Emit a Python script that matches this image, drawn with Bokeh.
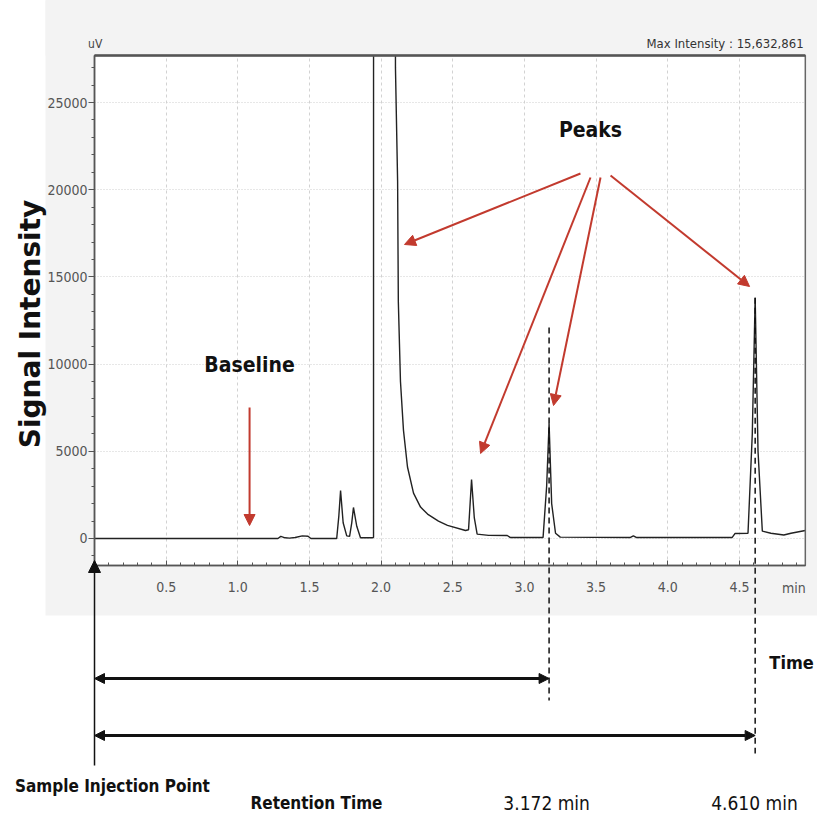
import math
from bokeh.plotting import figure
from bokeh.models import Arrow, NormalHead, Label, FixedTicker, Range1d, PrintfTickFormatter
from bokeh.embed import file_html
from bokeh.resources import INLINE

# ---- data ----
time_min = [0.00, 1.28, 1.30, 1.33, 1.36, 1.40, 1.45, 1.49, 1.51, 1.69, 1.705, 1.717, 1.735,
            1.76, 1.78, 1.795, 1.807, 1.83, 1.856, 1.94, 1.947, 2.02, 2.10, 2.115, 2.12, 2.135,
            2.156, 2.184, 2.226, 2.275, 2.324, 2.40, 2.463, 2.589, 2.61, 2.631, 2.65, 2.67,
            2.75, 2.88, 2.90, 3.13, 3.155, 3.172, 3.19, 3.217, 3.25, 3.74, 3.76, 3.78,
            4.45, 4.47, 4.56, 4.59, 4.61, 4.63, 4.66, 4.72, 4.81, 4.86, 4.96]
signal_uv = [0, 0, 120, 40, 20, 60, 150, 130, 0, 0, 1300, 2750, 900,
             150, 120, 900, 1780, 700, 40, 40, 60, 15632861, 27000, 20500, 13600, 9000,
             6200, 4100, 2600, 1800, 1400, 1000, 750, 460, 500, 3380, 1200, 250,
             180, 170, 60, 60, 3000, 6600, 2000, 300, 80, 60, 150, 60,
             60, 290, 300, 6000, 13800, 5000, 420, 300, 200, 300, 460]

x_ticks = [0.5, 1.0, 1.5, 2.0, 2.5, 3.0, 3.5, 4.0, 4.5]
x_minor = [round(0.1 * i, 1) for i in range(1, 50)]
y_ticks = [0, 5000, 10000, 15000, 20000, 25000]
y_minor = [1000 * i for i in range(-1, 28)]

X_MIN, X_MAX = 0.0, 4.96          # time axis limits (min)
Y_MIN, Y_MAX = -1550, 27700       # signal axis limits (uV)

retention_times = [3.172, 4.610]
retention_apex = [12100, 13800]
max_intensity_text = "Max Intensity : 15,632,861"

COND = "DejaVu Sans Condensed"
RED = "#c23a2e"
INK = "#111111"
PANEL = "#f3f3f3"

W, H = 817, 825
p = figure(width=W, height=H, x_range=Range1d(-0.656, 5.045), y_range=Range1d(-16457, 30849),
           output_backend="svg", toolbar_location=None,
           min_border_left=0, min_border_right=0, min_border_top=0, min_border_bottom=0)
p.background_fill_color = "white"
p.border_fill_color = "white"
p.outline_line_color = None

# panel backgrounds
p.quad(left=-0.342, right=6.0, bottom=-4415, top=40000, fill_color=PANEL, line_color=None, level="image")
p.quad(left=X_MIN, right=X_MAX, bottom=Y_MIN, top=Y_MAX, fill_color="white", line_color=None, level="image")

p.line(time_min, signal_uv, line_color="#222222", line_width=1.4)

# mask above the plot box (clips off-scale peak) and box outline
p.quad(left=-0.342, right=6.0, bottom=Y_MAX, top=40000, fill_color=PANEL, line_color=None, level="guide")
p.quad(left=X_MIN, right=X_MAX, bottom=Y_MIN, top=Y_MAX, fill_color=None, line_color="#666666",
       line_width=1.5, level="guide")
p.segment(x0=[X_MIN], y0=[Y_MAX], x1=[X_MAX], y1=[Y_MAX], line_color="#555555", line_width=2.5, level="guide")

# axes
p.xaxis.ticker = FixedTicker(ticks=x_ticks, minor_ticks=x_minor)
p.yaxis.ticker = FixedTicker(ticks=y_ticks, minor_ticks=y_minor)
p.xaxis.formatter = PrintfTickFormatter(format="%.1f")
p.xaxis.fixed_location = Y_MIN
p.yaxis.fixed_location = X_MIN
p.xaxis.bounds = (X_MIN, X_MAX)
p.yaxis.bounds = (Y_MIN, Y_MAX)
for ax in (p.xaxis, p.yaxis):
    ax.axis_line_color = "#555555"
    ax.axis_line_width = 1.5
    ax.major_tick_line_color = "#555555"
    ax.minor_tick_line_color = "#555555"
    ax.major_label_text_font = COND
    ax.major_label_text_font_size = "14px"
    ax.major_label_text_color = "#555555"
p.xaxis.major_tick_in = 5
p.xaxis.major_tick_out = 0
p.xaxis.minor_tick_in = 3
p.xaxis.minor_tick_out = 0
p.xaxis.major_label_standoff = 16
p.yaxis.major_tick_in = 0
p.yaxis.major_tick_out = 6
p.yaxis.minor_tick_in = 0
p.yaxis.minor_tick_out = 3
p.yaxis.major_label_standoff = 1

p.xgrid.grid_line_color = "#d2d2d2"
p.xgrid.grid_line_dash = "3 3"
p.xgrid.bounds = (X_MIN, X_MAX)
p.xgrid.cross_bounds = (Y_MIN, Y_MAX)
p.ygrid.grid_line_color = "#cfcfcf"
p.ygrid.grid_line_dash = "1 2"
p.ygrid.bounds = (Y_MIN, Y_MAX)
p.ygrid.cross_bounds = (X_MIN, X_MAX)

def lab(x, y, text, size, font=COND, style="normal", align="center", color=INK, angle=0.0):
    p.add_layout(Label(x=x, y=y, text=text, text_font=font, text_font_size=size,
                       text_font_style=style, text_align=align, text_baseline="middle",
                       text_color=color, angle=angle))

lab(-0.4466, 12300, "Signal Intensity", "28px", font="DejaVu Sans", style="bold", angle=math.pi / 2)
lab(-0.045, 28383, "uV", "12px", align="left", color="#444444")
lab(4.948, 28383, max_intensity_text, "13px", align="right", color="#333333")
lab(4.88, -2867, "min", "14px", color="#555555")
lab(3.461, 23395, "Peaks", "21px", style="bold")
lab(1.082, 9977, "Baseline", "21px", style="bold")
lab(4.864, -7110, "Time", "18px", style="bold")
lab(0.125, -14170, "Sample Injection Point", "17px", style="bold")
lab(1.549, -15195, "Retention Time", "17px", style="bold")
lab(retention_times[0] - 0.017, -15195, "%.3f min" % retention_times[0], "19px")
lab(retention_times[1] - 0.005, -15195, "%.3f min" % retention_times[1], "19px")

def red_arrow(x0, y0, x1, y1):
    p.add_layout(Arrow(x_start=x0, y_start=y0, x_end=x1, y_end=y1, line_color=RED, line_width=2,
                       end=NormalHead(size=11, fill_color=RED, line_color=RED)))

red_arrow(1.082, 7512, 1.082, 745)
red_arrow(3.391, 20929, 2.163, 16858)
red_arrow(3.461, 20700, 2.694, 4874)
red_arrow(3.531, 20700, 3.203, 7626)
red_arrow(3.601, 20815, 4.571, 14450)

# retention-time markers
dash_bottoms = [-9289, -12328]
arrow_levels = [-8028, -11296]
for rt, top, bot, lev in zip(retention_times, retention_apex, dash_bottoms, arrow_levels):
    p.add_layout(Arrow(x_start=rt, y_start=top, x_end=rt, y_end=bot, line_color=INK,
                       line_width=1.5, line_dash="6 4", end=None))
    p.add_layout(Arrow(x_start=X_MIN, y_start=lev, x_end=rt, y_end=lev, line_color=INK, line_width=3,
                       start=NormalHead(size=10, fill_color=INK, line_color=INK),
                       end=NormalHead(size=10, fill_color=INK, line_color=INK)))

# sample injection point
p.add_layout(Arrow(x_start=X_MIN, y_start=-13016, x_end=X_MIN, y_end=-1261, line_color=INK, line_width=1.5,
                   end=NormalHead(size=12, fill_color=INK, line_color=INK)))

open("out.html", "w").write(file_html(p, INLINE))
